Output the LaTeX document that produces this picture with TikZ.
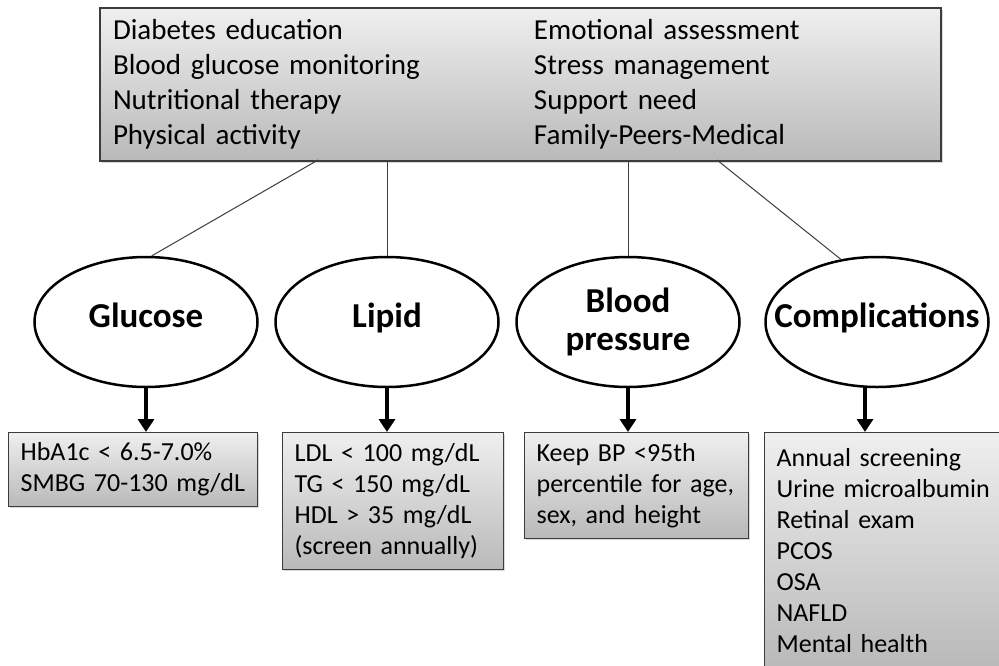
\documentclass[tikz,border=0pt]{standalone}
\usepackage{fontspec}
\setmainfont{Carlito}[WordSpace=0.75]
\usetikzlibrary{arrows.meta,calc,positioning,shapes.geometric,shadows}
\definecolor{boxtop}{HTML}{EFEFEF}
\definecolor{boxbot}{HTML}{B9B9B9}
\definecolor{rim}{HTML}{3C3C3C}

\begin{document}
\begin{tikzpicture}[x=1pt,y=-1pt,>=Latex,
  shade/.style={draw=rim,top color=boxtop,bottom color=boxbot,
    drop shadow={shadow xshift=1.5pt,shadow yshift=-1.5pt,opacity=0.3}},
  topbox/.style={shade,line width=2pt,anchor=north west,align=left,
    inner xsep=13pt,inner ysep=0pt,font=\fontsize{29}{35}\selectfont},
  infobox/.style={shade,line width=1.2pt,anchor=north west,align=left,
    inner xsep=12pt,inner ysep=4pt,font=\fontsize{26}{31}\selectfont},
  goal/.style={ellipse,draw,line width=2.5pt,fill=white,
    inner xsep=-30pt,inner ysep=0pt,
    minimum width=223pt,minimum height=130pt,align=center,
    font=\fontsize{35}{38}\selectfont\bfseries},
  oneline/.style={text height=24pt,text depth=14pt},
  link/.style={rim,line width=1pt},
  down/.style={line width=3.5pt,-{Triangle[width=16pt,length=13pt]}}]
  \clip (0,0) rectangle (999,665);
  % management box
  \node[topbox,text width=815pt,minimum height=153pt] (care) at (99,7)
    {\begin{tabular}{@{}p{421pt}@{}l@{}}
      Diabetes education & Emotional assessment\\
      Blood glucose monitoring & Stress management\\
      Nutritional therapy & Support need\\
      Physical activity & Family-Peers-Medical
    \end{tabular}};
  % targets
  \node[goal,oneline] (gluc) at (146,322) {Glucose};
  \node[goal,oneline] (lip) at (387,322) {Lipid};
  \node[goal] (bp) at (628,322) {Blood\\pressure};
  \node[goal,oneline] (comp) at (877,322) {Complications};
  \coordinate (c1) at (318,160);
  \coordinate (c2) at (387,160);
  \coordinate (c3) at (628,160);
  \coordinate (c4) at (717,160);
  \draw[link] (c1) -- (gluc.85);
  \draw[link] (c2) -- (lip.north);
  \draw[link] (c3) -- (bp.north);
  \draw[link] (c4) -- (comp.120);
  % detail boxes
  \node[infobox,text width=225pt,minimum height=74pt] (glucbox) at (8,432)
    {HbA1c < 6.5-7.0\%\\SMBG 70-130 mg/dL};
  \node[infobox,text width=197pt,minimum height=137pt] (lipbox) at (282,432)
    {LDL < 100 mg/dL\\TG < 150 mg/dL\\HDL > 35 mg/dL\\(screen annually)};
  \node[infobox,text width=200pt,minimum height=106pt] (bpbox) at (524,432)
    {Keep BP <95th\\percentile for age,\\sex, and height};
  \node[infobox,text width=236pt,minimum height=235pt] (compbox) at (764,432)
    {Annual screening\\Urine microalbumin\\Retinal exam\\PCOS\\OSA\\NAFLD\\Mental health};
  \draw[down] (gluc.south) -- (gluc.south |- glucbox.north);
  \draw[down] (lip.south) -- (lip.south |- lipbox.north);
  \draw[down] (bp.south) -- (bp.south |- bpbox.north);
  \draw[down] ([xshift=-12pt]comp.south) -- ([xshift=-12pt]comp.south |- compbox.north);
\end{tikzpicture}
\end{document}
